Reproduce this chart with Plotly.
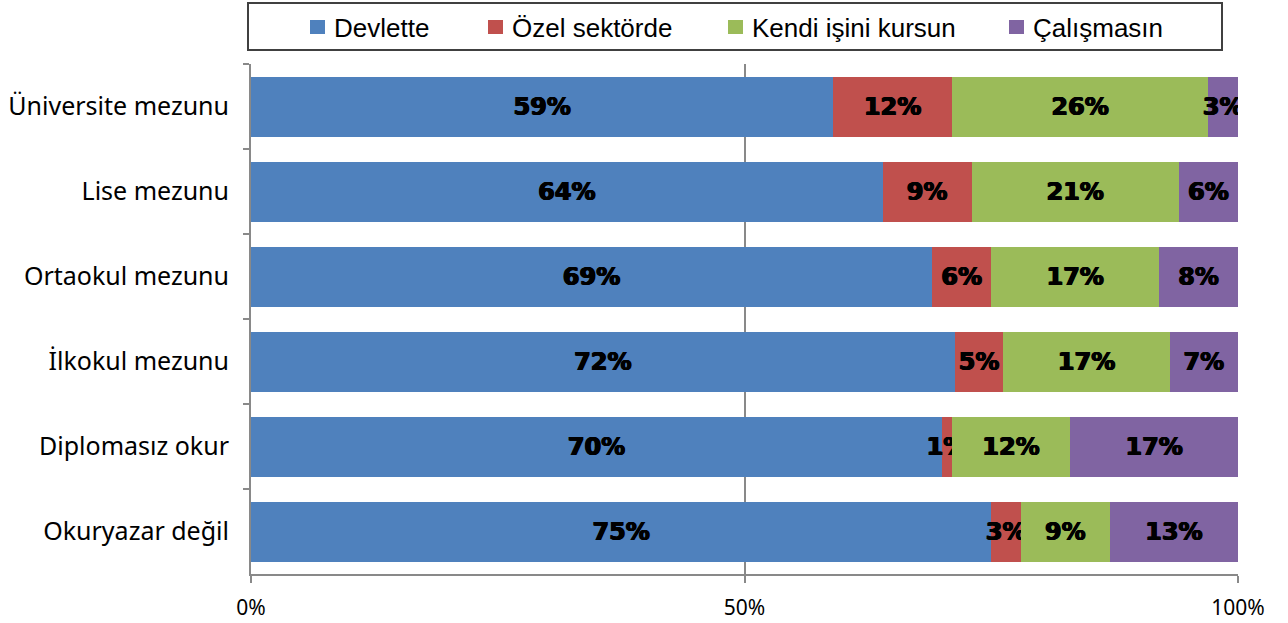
import plotly.graph_objects as go

categories = ["Üniversite mezunu", "Lise mezunu", "Ortaokul mezunu",
              "İlkokul mezunu", "Diplomasız okur", "Okuryazar değil"]

devlette = [59, 64, 69, 72, 70, 75]
ozel = [12, 9, 6, 5, 1, 3]
kendi = [26, 21, 17, 17, 12, 9]
calismasin = [3, 6, 8, 7, 17, 13]

series_names = ["Devlette", "Özel sektörde", "Kendi işini kursun", "Çalışmasın"]
series_values = [devlette, ozel, kendi, calismasin]
series_colors = ["#4F81BD", "#C0504D", "#9BBB59", "#8064A2"]

# plot-area geometry in pixels (used to place the custom legend)
W, H = 1288, 623
L, R, T, B = 251, 50, 64, 49
PW, PH = W - L - R, H - T - B


def px_x(p):
    return (p - L) / PW


def px_y(p):
    return (H - B - p) / PH


fig = go.Figure()
for name, vals, color in zip(series_names, series_values, series_colors):
    fig.add_trace(go.Bar(
        y=categories, x=vals, name=name, orientation="h",
        marker=dict(color=color, line=dict(width=0)),
        text=[f"{v}%" for v in vals], textposition="inside", textangle=0,
        insidetextanchor="middle", constraintext="none",
        textfont=dict(family="DejaVu Sans", size=24, color="black", weight="bold",
                      shadow="0.7px 0 0 black, -0.7px 0 0 black, 0 0.5px 0 black"),
        showlegend=False,
    ))

# legend box with swatches and labels across the top
legend_text_x = [332, 510, 750, 1031]
shapes = [dict(type="rect", xref="paper", yref="paper",
               x0=px_x(248), x1=px_x(1222), y0=px_y(50), y1=px_y(3),
               line=dict(color="#404040", width=2), fillcolor="white", layer="above")]
annotations = []
for name, color, tx in zip(series_names, series_colors, legend_text_x):
    shapes.append(dict(type="rect", xref="paper", yref="paper",
                       x0=px_x(tx - 22), x1=px_x(tx - 7), y0=px_y(34), y1=px_y(20),
                       line=dict(width=0), fillcolor=color, layer="above"))
    annotations.append(dict(xref="paper", yref="paper", x=px_x(tx), y=px_y(27.5),
                            xanchor="left", yanchor="middle", showarrow=False,
                            text=name, font=dict(family="Liberation Sans", size=26,
                                                 color="black")))

fig.update_layout(
    barmode="stack", barnorm="percent", bargap=0.294,
    width=W, height=H,
    margin=dict(l=L, r=R, t=T, b=B, autoexpand=False),
    paper_bgcolor="white", plot_bgcolor="white",
    font=dict(family="Noto Sans", size=25, color="black"),
    showlegend=False,
    shapes=shapes, annotations=annotations,
    xaxis=dict(range=[0, 100], tickvals=[0, 50, 100], ticktext=["0%", "50%", "100%"],
               showgrid=True, gridcolor="#898989", gridwidth=2, zeroline=False,
               showline=True, linecolor="#898989", linewidth=2,
               ticks="outside", ticklen=7, tickcolor="#898989", tickwidth=2,
               tickfont=dict(size=21), ticklabelstandoff=7),
    yaxis=dict(autorange="reversed", showline=True, linecolor="#898989", linewidth=2,
               ticks="outside", tickson="boundaries", ticklen=6, tickcolor="#898989",
               tickwidth=2, ticklabelstandoff=15),
)

fig.write_html("out.html")
